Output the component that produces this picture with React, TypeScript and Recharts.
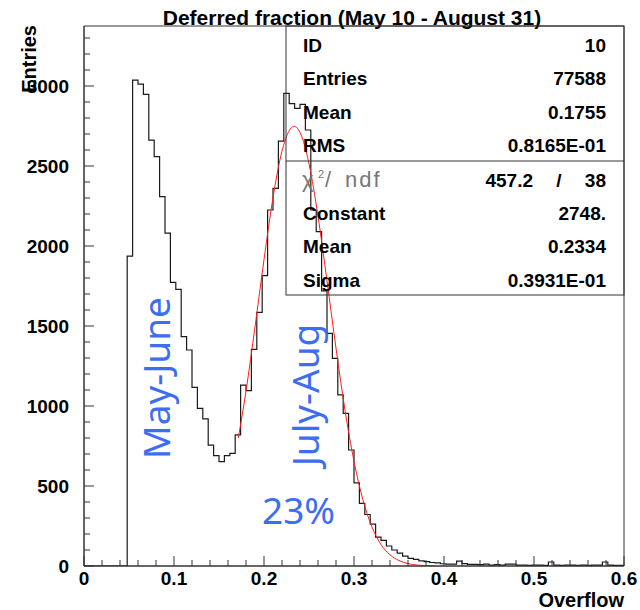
import React from 'react';
import { ComposedChart, Line, XAxis, YAxis, ReferenceArea } from 'recharts';

// Deferred fraction histogram (PAW/ROOT style), 100 bins of 0.006 from 0 to 0.6
const BIN_WIDTH = 0.006;
const histCounts = [
  0, 0, 0, 0, 0, 0, 0, 0,
  1937, 3037, 3012, 2948, 2662, 2558, 2308, 2081, 1773, 1729,
  1433, 1350, 1117, 985, 919, 756, 690, 652, 690, 704,
  819, 1131, 1096, 1354, 1585, 1815, 2225, 2360, 2656, 2954,
  2890, 2860, 2885, 2725, 2225, 2090, 1720, 1454, 1298, 1069,
  954, 725, 520, 392, 322, 262, 180, 160, 125, 100,
  80, 62, 48, 42, 32, 27, 22, 20, 14, 12,
  12, 30, 15, 10, 10, 8, 12, 6, 8, 6,
  12, 12, 6, 5, 4, 5, 6, 4, 25, 5,
  4, 5, 6, 4, 5, 4, 6, 5, 25, 5,
  4, 4,
];

// gaussian fit (red)
const fitX = [0.1715, 0.18, 0.19, 0.2, 0.21, 0.22, 0.2334, 0.24, 0.25, 0.26, 0.27, 0.28, 0.29, 0.3, 0.31, 0.32, 0.33, 0.34, 0.35, 0.36, 0.37, 0.38, 0.39];
const fitY = [800, 1093, 1494, 1915, 2302, 2593, 2748, 2710, 2514, 2186, 1782, 1361, 974, 654, 412, 243, 134, 70, 34, 15, 6, 3, 1];

const xTicks = [
  0, 0.02, 0.04, 0.06, 0.08, 0.1, 0.12, 0.14, 0.16, 0.18, 0.2, 0.22, 0.24, 0.26, 0.28, 0.3,
  0.32, 0.34, 0.36, 0.38, 0.4, 0.42, 0.44, 0.46, 0.48, 0.5, 0.52, 0.54, 0.56, 0.58, 0.6,
];
const xLabels = ['0', '0.1', '0.2', '0.3', '0.4', '0.5', '0.6'];
const yTicks = [
  0, 100, 200, 300, 400, 500, 600, 700, 800, 900, 1000, 1100, 1200, 1300, 1400, 1500, 1600,
  1700, 1800, 1900, 2000, 2100, 2200, 2300, 2400, 2500, 2600, 2700, 2800, 2900, 3000, 3100, 3200, 3300,
];
const yLabels = ['0', '500', '1000', '1500', '2000', '2500', '3000'];
const Y_MAX = 3375;

const statLabels = ['ID', 'Entries', 'Mean', 'RMS'];
const statValues = ['10', '77588', '0.1755', '0.8165E-01'];
const fitLabels = ['Constant', 'Mean', 'Sigma'];
const fitValues = ['2748.', '0.2334', '0.3931E-01'];

const histData = histCounts.map((c, i) => ({ x: i * BIN_WIDTH, y: c }));
histData.push({ x: histCounts.length * BIN_WIDTH, y: histCounts[histCounts.length - 1] });
const fitData = fitX.map((x, i) => ({ x, y: fitY[i] }));

const FONT = '"Liberation Sans", Arial, sans-serif';
const BLUE = '#3d6df0';
const AXIS = '#333';

function XTick(props: any) {
  const { x, y, index } = props;
  const major = index % 5 === 0;
  return (
    <g>
      <line x1={x} x2={x} y1={y} y2={y - (major ? 10 : 6)} stroke={AXIS} />
      {major && (
        <text x={x} y={y + 19} textAnchor="middle" fontFamily={FONT} fontWeight="bold" fontSize={19} fill="#000">
          {xLabels[index / 5]}
        </text>
      )}
    </g>
  );
}

function YTick(props: any) {
  const { x, y, index } = props;
  const major = index % 5 === 0;
  return (
    <g>
      <line x1={x} x2={x + (major ? 10 : 6)} y1={y} y2={y} stroke={AXIS} />
      {major && (
        <text x={x - 15} y={y + 7} textAnchor="end" fontFamily={FONT} fontWeight="bold" fontSize={19} fill="#000">
          {yLabels[index / 5]}
        </text>
      )}
    </g>
  );
}

export default function App() {
  const rowY = [52, 85, 119, 152];
  const fitRowY = [220, 253, 287];
  return (
    <div style={{ position: 'absolute', left: 0, top: 0, width: 640, height: 610, background: '#fff' }}>
      <ComposedChart width={640} height={610} margin={{ top: 26, right: 16, bottom: 0, left: 0 }}>
        <XAxis
          type="number"
          dataKey="x"
          domain={[0, 0.6]}
          ticks={xTicks}
          interval={0}
          tickSize={0}
          tickMargin={0}
          tickLine={false}
          height={44}
          allowDataOverflow
          axisLine={{ stroke: AXIS }}
          tick={<XTick />}
        />
        <YAxis
          type="number"
          domain={[0, Y_MAX]}
          ticks={yTicks}
          interval={0}
          tickSize={0}
          tickMargin={0}
          tickLine={false}
          width={84}
          allowDataOverflow
          axisLine={{ stroke: AXIS }}
          tick={<YTick />}
        />
        <ReferenceArea x1={0} x2={0.6} y1={0} y2={Y_MAX} fill="none" stroke={AXIS} strokeWidth={1} ifOverflow="visible" />
        <Line
          data={histData}
          dataKey="y"
          type="stepAfter"
          stroke="#1a1a1a"
          strokeWidth={1.2}
          dot={false}
          activeDot={false}
          isAnimationActive={false}
        />
        <Line
          data={fitData}
          dataKey="y"
          type="monotone"
          stroke="#ff1a1a"
          strokeWidth={1}
          dot={false}
          activeDot={false}
          isAnimationActive={false}
        />
      </ComposedChart>

      <svg width={640} height={610} style={{ position: 'absolute', left: 0, top: 0, pointerEvents: 'none' }}>
        <text x={352} y={25} textAnchor="middle" fontFamily={FONT} fontWeight="bold" fontSize={21} fill="#000">
          Deferred fraction (May 10 - August 31)
        </text>
        <text transform="translate(36,25) rotate(-90)" textAnchor="end" fontFamily={FONT} fontWeight="bold" fontSize={20} fill="#000">
          Entries
        </text>
        <text x={624} y={607} textAnchor="end" fontFamily={FONT} fontWeight="bold" fontSize={20} fill="#000">
          Overflow
        </text>

        {/* stats box */}
        <rect x={286} y={26} width={338} height={269} fill="none" stroke={AXIS} strokeWidth={1} />
        <line x1={286} x2={624} y1={161} y2={161} stroke={AXIS} strokeWidth={1} />
        {statLabels.map((l, i) => (
          <g key={l + i}>
            <text x={303} y={rowY[i]} fontFamily={FONT} fontWeight="bold" fontSize={19} fill="#000">{l}</text>
            <text x={606} y={rowY[i]} textAnchor="end" fontFamily={FONT} fontWeight="bold" fontSize={19} fill="#000">{statValues[i]}</text>
          </g>
        ))}
        <text x={302} y={187} fontFamily={FONT} fontSize={22} fill="#777">χ</text>
        <text x={318} y={178} fontFamily={FONT} fontSize={11} fill="#777">2</text>
        <text x={325} y={187} fontFamily={FONT} fontSize={22} fill="#777">/</text>
        <text x={345} y={187} fontFamily={FONT} fontSize={22} letterSpacing={2} fill="#777">ndf</text>
        <text x={533} y={187} textAnchor="end" fontFamily={FONT} fontWeight="bold" fontSize={19} fill="#000">457.2</text>
        <text x={559} y={187} textAnchor="middle" fontFamily={FONT} fontWeight="bold" fontSize={19} fill="#000">/</text>
        <text x={606} y={187} textAnchor="end" fontFamily={FONT} fontWeight="bold" fontSize={19} fill="#000">38</text>
        {fitLabels.map((l, i) => (
          <g key={l + i}>
            <text x={303} y={fitRowY[i]} fontFamily={FONT} fontWeight="bold" fontSize={19} fill="#000">{l}</text>
            <text x={606} y={fitRowY[i]} textAnchor="end" fontFamily={FONT} fontWeight="bold" fontSize={19} fill="#000">{fitValues[i]}</text>
          </g>
        ))}

        {/* annotations */}
        <text transform="translate(170,378) rotate(-90)" textAnchor="middle" fontFamily='"Noto Sans", sans-serif' fontSize={37} fill={BLUE}>
          May-June
        </text>
        <text transform="translate(319,395) rotate(-90)" textAnchor="middle" fontFamily='"Noto Sans", sans-serif' fontSize={37} fill={BLUE}>
          July-Aug
        </text>
        <text x={262} y={524} fontFamily='"Noto Sans", sans-serif' fontSize={37} fill={BLUE}>
          23%
        </text>
      </svg>
    </div>
  );
}
